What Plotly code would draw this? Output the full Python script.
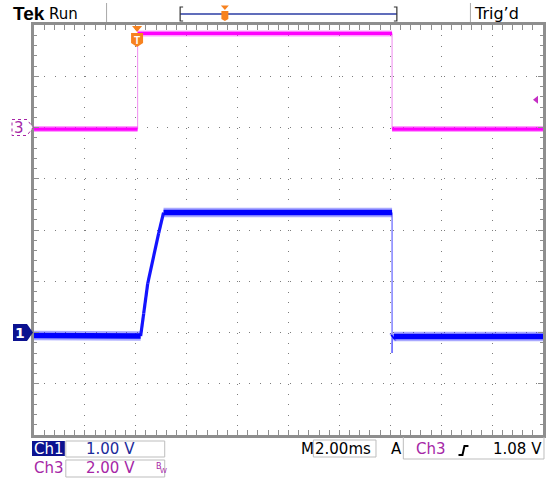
import plotly.graph_objects as go

# ---------------- data (read from the screen) ----------------
# time in ms relative to trigger, 2 ms/div, 10 divisions on screen
time_left = -4.05
time_per_div = 2.0
# Ch1 1 V/div (ground 2 div above bottom), Ch3 2 V/div (ground 6 div above bottom)
ch1_range = [-2.0, 6.0]
ch3_range = [-12.0, 4.0]

ch1_t = [-4.05, 0.14, 0.26, 0.42, 0.85, 1.04, 10.02, 10.02, 10.03, 10.08, 15.95]
ch1_v = [-0.06, -0.07, 0.37, 0.96, 1.94, 2.34, 2.34, -0.40, -0.10, -0.08, -0.08]

ch3_t = [-4.05, 0.02, 0.02, 10.02, 10.02, 15.95]
ch3_v = [-0.06, -0.06, 3.67, 3.67, -0.06, -0.06]

trig_time = 0.0
trig_level = 1.08  # V on Ch3

# ---------------- geometry helpers (layout decorations only) ----------------
PL, PT, PW, PH = 34, 25, 512, 410


def X(px):
    return (px - PL) / PW


def Y(py):
    return (PT + PH - py) / PH


def ppath(points, close=False):
    s = "M" + " L".join(f"{X(a):.5f},{Y(b):.5f}" for a, b in points)
    return s + (" Z" if close else "")


def split(t, v, kind):
    xs, ys = [], []
    for i in range(len(t) - 1):
        dt = t[i + 1] - t[i]
        dv = v[i + 1] - v[i]
        if dt == 0 or abs(dv / dt) > 10:
            k = "edge"
        elif abs(dv / dt) < 0.5:
            k = "level"
        else:
            k = "ramp"
        if k == kind:
            xs += [t[i], t[i + 1], None]
            ys += [v[i], v[i + 1], None]
    return xs, ys


fig = go.Figure()

# ---- Ch3 (magenta) ----
ex, ey = split(ch3_t, ch3_v, "edge")
fig.add_trace(go.Scatter(x=ex, y=ey, yaxis="y2", mode="lines",
                         line=dict(color="#f29cf2", width=1.2), hoverinfo="skip"))
lx, ly = split(ch3_t, ch3_v, "level")
fig.add_trace(go.Scatter(x=lx, y=ly, yaxis="y2", mode="lines",
                         line=dict(color="rgba(255,40,255,0.45)", width=6), hoverinfo="skip"))
fig.add_trace(go.Scatter(x=lx, y=ly, yaxis="y2", mode="lines",
                         line=dict(color="#ff00ff", width=3.2), hoverinfo="skip"))

# ---- Ch1 (blue) ----
ex, ey = split(ch1_t, ch1_v, "edge")
fig.add_trace(go.Scatter(x=ex, y=ey, yaxis="y", mode="lines",
                         line=dict(color="#6f6fff", width=1.3), hoverinfo="skip"))
rx, ry = split(ch1_t, ch1_v, "ramp")
fig.add_trace(go.Scatter(x=rx, y=ry, yaxis="y", mode="lines",
                         line=dict(color="#1414ff", width=3.2), hoverinfo="skip"))
lx, ly = split(ch1_t, ch1_v, "level")
fig.add_trace(go.Scatter(x=lx, y=ly, yaxis="y", mode="lines",
                         line=dict(color="rgba(40,40,255,0.4)", width=9.5), hoverinfo="skip"))
fig.add_trace(go.Scatter(x=lx, y=ly, yaxis="y", mode="lines",
                         line=dict(color="#0000ff", width=5.5), hoverinfo="skip"))

GRID = "#7d7d7d"
FRAME = "#8e8e8e"
axis_common = dict(showgrid=True, gridcolor=GRID, gridwidth=1, griddash="1px,9.25px",
                   showline=True, linecolor=FRAME, linewidth=3, mirror="allticks",
                   ticks="inside", ticklen=5, tickcolor=FRAME, tickwidth=1,
                   showticklabels=False, zeroline=False, fixedrange=True)

fig.update_layout(
    width=558, height=481, autosize=False,
    margin=dict(l=PL, r=558 - PL - PW, t=PT, b=481 - PT - PH),
    paper_bgcolor="white", plot_bgcolor="white", showlegend=False,
    font=dict(family="DejaVu Sans", size=15, color="black"),
    xaxis=dict(range=[time_left, time_left + 10 * time_per_div], tick0=time_left,
               dtick=time_per_div,
               minor=dict(dtick=time_per_div / 5, tick0=time_left, ticks="inside",
                          ticklen=3, tickcolor=FRAME, showgrid=False),
               **axis_common),
    yaxis=dict(range=ch1_range, tick0=ch1_range[0], dtick=1.0,
               minor=dict(dtick=0.2, tick0=ch1_range[0], ticks="inside",
                          ticklen=3, tickcolor=FRAME, showgrid=False),
               **axis_common),
    yaxis2=dict(range=ch3_range, overlaying="y", visible=False, fixedrange=True),
)

shapes = []
ann = []

MAG = "#a626a6"
NAVY = "#0c1290"
ORANGE = "#f7821f"
LGRAY = "#bdbdbd"

# channel ground markers
shapes.append(dict(type="path", xref="paper", yref="y2", xsizemode="pixel", ysizemode="pixel",
                   xanchor=0, yanchor=0,
                   path="M-22,8 L-7,8 L-1,0 L-7,-8 L-22,-8 Z",
                   fillcolor="white", line=dict(color=MAG, width=1, dash="dot")))
ann.append(dict(x=X(19), y=0, xref="paper", yref="y2", text="3", showarrow=False,
                xanchor="center", yanchor="middle", font=dict(color=MAG, size=15)))
shapes.append(dict(type="path", xref="paper", yref="y", xsizemode="pixel", ysizemode="pixel",
                   xanchor=0, yanchor=0,
                   path="M-21,8.5 L-7,8.5 L-1,0 L-7,-8.5 L-21,-8.5 Z",
                   fillcolor=NAVY, line=dict(width=0)))
ann.append(dict(x=X(19.5), y=0, xref="paper", yref="y", text="<b>1</b>", showarrow=False,
                xanchor="center", yanchor="middle", font=dict(color="white", size=14)))

# trigger level marker (right edge)
shapes.append(dict(type="path", xref="paper", yref="y2", xsizemode="pixel", ysizemode="pixel",
                   xanchor=1, yanchor=trig_level,
                   path="M-10,0 L-5,4 L-5,-4 Z", fillcolor="#c42fc4", line=dict(width=0)))

# trigger position marker (top)
shapes.append(dict(type="path", xref="x", yref="paper", xsizemode="pixel", ysizemode="pixel",
                   xanchor=trig_time, yanchor=1,
                   path="M-5,-1 L5,-1 L0,-7 Z", fillcolor=ORANGE, line=dict(width=0)))
shapes.append(dict(type="path", xref="x", yref="paper", xsizemode="pixel", ysizemode="pixel",
                   xanchor=trig_time, yanchor=1,
                   path="M-6,-8 L6,-8 L6,-18 L0,-22 L-6,-18 Z", fillcolor=ORANGE,
                   line=dict(width=0)))
ann.append(dict(x=trig_time, y=Y(40), xref="x", yref="paper", text="<b>T</b>", showarrow=False,
                xanchor="center", yanchor="middle",
                font=dict(color="white", size=10, family="Liberation Sans")))

# ---- top status bar ----
ann.append(dict(x=X(11), y=Y(14), xref="paper", yref="paper", text="<b>Tek</b>",
                showarrow=False, xanchor="left", yanchor="middle",
                font=dict(family="Liberation Sans", size=19, color="black")))
ann.append(dict(x=X(47), y=Y(14), xref="paper", yref="paper", text="Run",
                showarrow=False, xanchor="left", yanchor="middle", font=dict(size=15)))
ann.append(dict(x=X(475), y=Y(14), xref="paper", yref="paper", text="Trig’d",
                showarrow=False, xanchor="left", yanchor="middle", font=dict(size=16)))
for sx in (107, 473):
    shapes.append(dict(type="line", xref="paper", yref="paper", x0=X(sx), x1=X(sx),
                       y0=Y(3), y1=Y(22), line=dict(color="#a8a8a8", width=1)))
shapes.append(dict(type="line", xref="paper", yref="paper", x0=X(181), x1=X(399),
                   y0=Y(14), y1=Y(14), line=dict(color="#2b3ca4", width=1.5)))
shapes.append(dict(type="path", xref="paper", yref="paper",
                   path=ppath([(184, 7), (181, 7), (181, 21), (184, 21)]),
                   line=dict(color="#333333", width=1.2)))
shapes.append(dict(type="path", xref="paper", yref="paper",
                   path=ppath([(396, 7), (399, 7), (399, 21), (396, 21)]),
                   line=dict(color="#333333", width=1.2)))
shapes.append(dict(type="path", xref="paper", yref="paper",
                   path=ppath([(222, 5.5), (230, 5.5), (226, 10)], close=True),
                   fillcolor=ORANGE, line=dict(width=0)))
shapes.append(dict(type="path", xref="paper", yref="paper",
                   path=ppath([(222.5, 11), (229.5, 11), (229.5, 19), (226, 21), (222.5, 19)],
                              close=True),
                   fillcolor=ORANGE, line=dict(width=0)))

# ---- bottom status bar ----
shapes.append(dict(type="rect", xref="paper", yref="paper", x0=X(32), x1=X(65),
                   y0=Y(456), y1=Y(441), fillcolor=NAVY, line=dict(width=0)))
ann.append(dict(x=X(32), y=Y(449), xref="paper", yref="paper", text="Ch1", showarrow=False,
                xanchor="left", yanchor="middle", font=dict(color="white", size=15)))
shapes.append(dict(type="rect", xref="paper", yref="paper", x0=X(66), x1=X(165.5),
                   y0=Y(457), y1=Y(441), line=dict(color=LGRAY, width=1)))
ann.append(dict(x=X(84), y=Y(449), xref="paper", yref="paper", text="1.00 V", showarrow=False,
                xanchor="left", yanchor="middle", font=dict(color="#1c2a9a", size=15)))
ann.append(dict(x=X(32), y=Y(468), xref="paper", yref="paper", text="Ch3", showarrow=False,
                xanchor="left", yanchor="middle", font=dict(color=MAG, size=15)))
shapes.append(dict(type="rect", xref="paper", yref="paper", x0=X(66), x1=X(165.5),
                   y0=Y(477), y1=Y(460), line=dict(color=LGRAY, width=1)))
ann.append(dict(x=X(84), y=Y(468), xref="paper", yref="paper", text="2.00 V", showarrow=False,
                xanchor="left", yanchor="middle", font=dict(color=MAG, size=15)))
ann.append(dict(x=X(155), y=Y(466), xref="paper", yref="paper", text="B",
                showarrow=False, xanchor="left", yanchor="middle",
                font=dict(color=MAG, size=8)))
ann.append(dict(x=X(159), y=Y(471), xref="paper", yref="paper", text="W",
                showarrow=False, xanchor="left", yanchor="middle",
                font=dict(color=MAG, size=7)))
ann.append(dict(x=X(301), y=Y(449), xref="paper", yref="paper", text="M", showarrow=False,
                xanchor="left", yanchor="middle", font=dict(size=15)))
shapes.append(dict(type="rect", xref="paper", yref="paper", x0=X(315), x1=X(378),
                   y0=Y(457), y1=Y(440), line=dict(color=LGRAY, width=1)))
ann.append(dict(x=X(315), y=Y(449), xref="paper", yref="paper", text="2.00ms",
                showarrow=False, xanchor="left", yanchor="middle", font=dict(size=15)))
ann.append(dict(x=X(391), y=Y(449), xref="paper", yref="paper", text="A", showarrow=False,
                xanchor="left", yanchor="middle", font=dict(size=15)))
shapes.append(dict(type="path", xref="paper", yref="paper",
                   path=ppath([(405.5, 437), (405.5, 459), (547, 459), (547, 437)]),
                   line=dict(color=LGRAY, width=1)))
ann.append(dict(x=X(416), y=Y(449), xref="paper", yref="paper", text="Ch3", showarrow=False,
                xanchor="left", yanchor="middle", font=dict(color=MAG, size=15)))
shapes.append(dict(type="path", xref="paper", yref="paper",
                   path=ppath([(461, 455), (465, 455), (467, 446), (471, 446)]),
                   line=dict(color="black", width=2)))
ann.append(dict(x=X(494), y=Y(449), xref="paper", yref="paper", text="1.08 V",
                showarrow=False, xanchor="left", yanchor="middle", font=dict(size=15)))

fig.update_layout(shapes=shapes, annotations=ann)

fig.write_html("out.html", config={"displayModeBar": False, "staticPlot": True},
               post_script="document.body.style.margin='0';document.body.style.padding='0';")
